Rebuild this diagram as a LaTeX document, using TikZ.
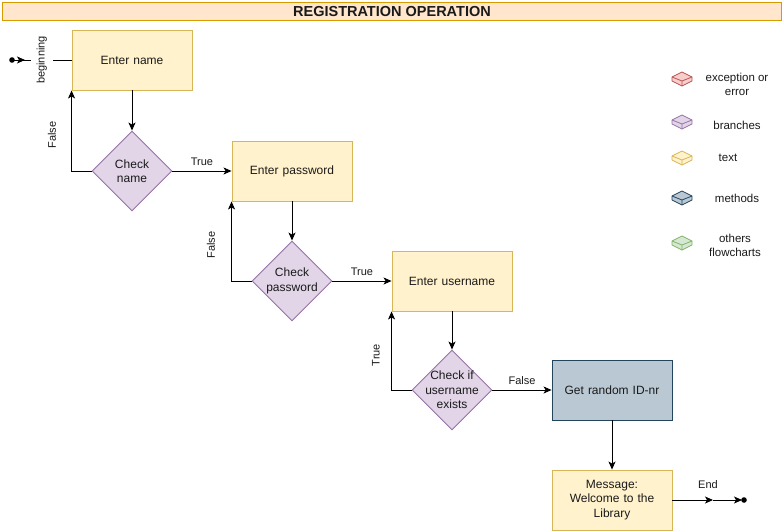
\documentclass[tikz,border=0pt]{standalone}
\usepackage{fontspec}
\setmainfont{Liberation Sans}
\usetikzlibrary{shapes.geometric,arrows.meta,calc}
\definecolor{ttlfill}{HTML}{FFE6CC}
\definecolor{ttldraw}{HTML}{D79B00}
\definecolor{yfill}{HTML}{FFF2CC}
\definecolor{ydraw}{HTML}{D6B656}
\definecolor{pfill}{HTML}{E1D5E7}
\definecolor{pdraw}{HTML}{9673A6}
\definecolor{bfill}{HTML}{BAC8D3}
\definecolor{bdraw}{HTML}{23445D}
\definecolor{rfill}{HTML}{F8CECC}
\definecolor{rdraw}{HTML}{B85450}
\definecolor{gfill}{HTML}{D5E8D4}
\definecolor{gdraw}{HTML}{82B366}
\definecolor{txt}{HTML}{1A1A1A}
\tikzset{
  every node/.style={text=txt},
  stepbox/.style={draw=ydraw, fill=yfill, line width=0.9pt, minimum width=120, minimum height=60,
    inner sep=0pt, text width=112, align=center, font=\fontsize{12}{14.5}\selectfont},
  methbox/.style={stepbox, draw=bdraw, fill=bfill},
  dia/.style={diamond, aspect=1, draw=pdraw, fill=pfill, line width=0.9pt, minimum width=80, minimum height=80, inner sep=0pt},
  diatext/.style={align=center, font=\fontsize{12}{14.5}\selectfont, inner sep=0pt},
  lbl/.style={font=\fontsize{11}{13}\selectfont, inner sep=1pt},
  leg/.style={font=\fontsize{11.5}{14}\selectfont, align=center, inner sep=0pt},
  arr/.style={line width=0.9pt, -{Stealth[length=8pt,width=7pt,inset=2pt]}},
  ln/.style={line width=0.9pt},
}
\newcommand{\legicon}[4]{%
  \filldraw[fill=#3, draw=#4, line width=0.8pt, line join=round]
    (#1-10,#2-2) -- (#1,#2-7) -- (#1+10,#2-2) -- (#1+10,#2+2) -- (#1,#2+7) -- (#1-10,#2+2) -- cycle;
  \draw[draw=#4, line width=0.8pt, line join=round] (#1-10,#2-2) -- (#1,#2+2) -- (#1+10,#2-2) (#1,#2+2) -- (#1,#2+7);
}
\begin{document}
\begin{tikzpicture}[x=1pt,y=-1pt]
\useasboundingbox (0,0) rectangle (783,531);
% title
\node[draw=ttldraw, fill=ttlfill, line width=0.9pt, minimum width=779, minimum height=18, inner sep=0pt, anchor=north west] (title) at (2,2)
  {\bfseries\fontsize{14.5}{16}\selectfont REGISTRATION OPERATION};
% nodes
\node[stepbox] (ename) at (132,60) {Enter name};
\node[dia, label={[diatext]center:{Check\\name}}] (d1) at (132,171) {};
\node[stepbox] (epass) at (292,171) {Enter password};
\node[dia, label={[diatext]center:{Check\\password}}] (d2) at (292,281) {};
\node[stepbox] (euser) at (452,281) {Enter username};
\node[dia, label={[diatext]center:{Check if\\username\\exists}}] (d3) at (452,390) {};
\node[methbox] (rid) at (612,390) {Get random ID-nr};
\node[stepbox] (msg) at (612,500) {Message:\\Welcome to the\\Library};
% start
\coordinate (start) at (12,60);
\draw[ln] (start) -- node[lbl, fill=white, rotate=90, inner xsep=3pt, inner ysep=6pt, pos=0.5] (beg) {beginning} (ename.west);
\draw[arr] (start) -- ++(13,0);
\fill (start) circle (2.8);
% flow
\draw[arr] (ename.south) -- (d1.north);
\draw[arr] (d1.west) -| (ename.south west);
\node[lbl, rotate=90] (f1) at (52,135) {False};
\draw[arr] (d1.east) -- node[lbl, above=4pt] (t1) {True} (epass.west);
\draw[arr] (epass.south) -- (d2.north);
\draw[arr] (d2.west) -| (epass.south west);
\node[lbl, rotate=90] (f2) at (211,245) {False};
\draw[arr] (d2.east) -- node[lbl, above=4pt] (t2) {True} (euser.west);
\draw[arr] (euser.south) -- (d3.north);
\draw[arr] (d3.west) -| (euser.south west);
\node[lbl, rotate=90] (t3) at (376,355) {True};
\draw[arr] (d3.east) -- node[lbl, above=4pt] (f3) {False} (rid.west);
\draw[arr] (rid.south) -- (msg.north);
% end
\coordinate (emid) at (713,500);
\coordinate (eend) at (744,500);
\coordinate (etip) at (742,500);
\draw[arr] (msg.east) -- (emid);
\draw[arr] (emid) -- (etip);
\fill (eend) circle (2.8);
\node[lbl] (endl) at (708,485) {End};
% legend
\legicon{682}{79}{rfill}{rdraw}
\legicon{682}{122}{pfill}{pdraw}
\legicon{682}{158}{yfill}{ydraw}
\legicon{682}{198}{bfill}{bdraw}
\legicon{682}{243}{gfill}{gdraw}
\node[leg] (l1) at (737,84) {exception or\\error};
\node[leg] (l2) at (737,125) {branches};
\node[leg] (l3) at (728,158) {text};
\node[leg] (l4) at (737,198) {methods};
\node[leg] (l5) at (735,245) {others\\flowcharts};
\end{tikzpicture}
\end{document}
